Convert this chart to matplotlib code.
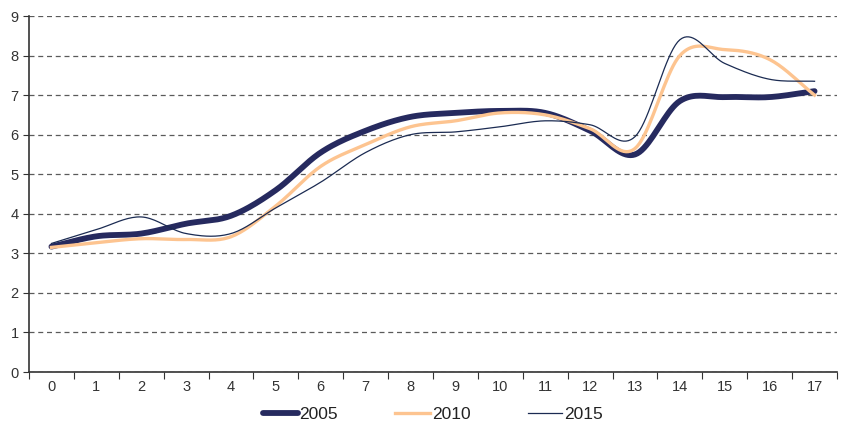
import numpy as np
import matplotlib
matplotlib.use("Agg")
import matplotlib.pyplot as plt

plt.rcParams['font.family'] = ['Liberation Sans', 'DejaVu Sans']

categories = list(range(18))
s2005 = [3.17, 3.43, 3.50, 3.75, 3.95, 4.60, 5.55, 6.10, 6.45, 6.55, 6.60, 6.55, 6.10, 5.50, 6.85, 6.95, 6.95, 7.10]
s2010 = [3.15, 3.27, 3.37, 3.35, 3.42, 4.20, 5.20, 5.75, 6.20, 6.35, 6.55, 6.50, 6.15, 5.65, 8.00, 8.15, 7.90, 7.00]
s2015 = [3.25, 3.60, 3.92, 3.50, 3.50, 4.15, 4.80, 5.55, 6.00, 6.07, 6.20, 6.35, 6.25, 5.95, 8.40, 7.80, 7.40, 7.35]


def smooth(x, y, n=20):
    # catmull-rom curve through the points, like the spreadsheet "smoothed line"
    x = np.asarray(x, float)
    y = np.asarray(y, float)
    px = np.concatenate([[2 * x[0] - x[1]], x, [2 * x[-1] - x[-2]]])
    py = np.concatenate([[2 * y[0] - y[1]], y, [2 * y[-1] - y[-2]]])
    t = np.linspace(0, 1, n, endpoint=False)
    xs, ys = [], []
    for i in range(1, len(px) - 2):
        for p, out in ((px, xs), (py, ys)):
            p0, p1, p2, p3 = p[i - 1], p[i], p[i + 1], p[i + 2]
            out.extend(0.5 * (2 * p1 + (-p0 + p2) * t
                              + (2 * p0 - 5 * p1 + 4 * p2 - p3) * t ** 2
                              + (-p0 + 3 * p1 - 3 * p2 + p3) * t ** 3))
    xs.append(x[-1])
    ys.append(y[-1])
    return np.array(xs), np.array(ys)


fig = plt.figure(figsize=(8.41, 4.21), dpi=100)
ax = fig.add_axes([29 / 841, 49 / 421, 808 / 841, 356 / 421])

navy = '#262a5f'
orange = '#fdc490'
dark = '#1b2b52'

ax.plot(*smooth(categories, s2005), color=navy, lw=4.2, solid_capstyle='round', label='2005', zorder=3)
ax.plot(*smooth(categories, s2010), color=orange, lw=2.4, label='2010', zorder=4)
ax.plot(*smooth(categories, s2015), color=dark, lw=0.9, label='2015', zorder=5)

ax.set_xlim(-0.5, 17.5)
ax.set_ylim(0, 9)
ax.set_yticks(range(10))
ax.yaxis.grid(True, color='#5a5a5a', linestyle=(0, (4, 3)), lw=0.9)
ax.set_axisbelow(True)

ax.set_xticks(np.arange(-0.5, 18, 1))
ax.set_xticklabels([])
ax.set_xticks(categories, minor=True)
ax.set_xticklabels([str(c) for c in categories], minor=True)
ax.tick_params(axis='x', which='major', length=5, direction='out', color='#333333')
ax.tick_params(axis='x', which='minor', length=0, pad=6, labelsize=10.5, labelcolor='#333333')
ax.tick_params(axis='y', length=4, labelsize=10.5, labelcolor='#333333', color='#333333')

for side in ('top', 'right'):
    ax.spines[side].set_visible(False)
for side in ('left', 'bottom'):
    ax.spines[side].set_color('#333333')
    ax.spines[side].set_linewidth(1.2)

leg = ax.legend(loc='center', bbox_to_anchor=(0.5, -0.12), ncol=3, frameon=False,
                fontsize=12.5, handlelength=2.0, handletextpad=0.1, columnspacing=3.3)
for txt in leg.get_texts():
    txt.set_color('#222222')

fig.savefig('out.png', dpi=100)
